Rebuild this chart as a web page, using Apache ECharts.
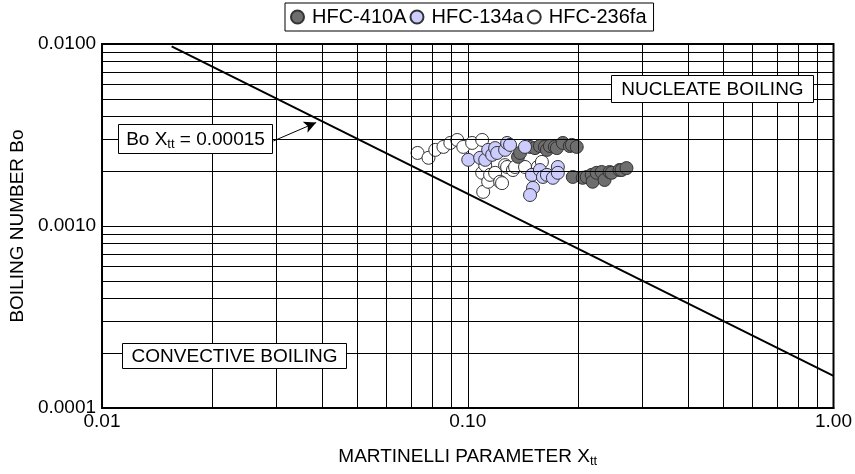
<!DOCTYPE html>
<html>
<head>
<meta charset="utf-8">
<script src="https://cdn.jsdelivr.net/npm/echarts@6/dist/echarts.min.js"></script>
<style>
html, body { margin: 0; padding: 0; background: #fff; }
#chart { width: 855px; height: 474px; }
</style>
</head>
<body>
<div id="chart"></div>
<script>
// [Xtt, Bo]
var r410a = [
  [0.1372, 0.00240], [0.1390, 0.00252], [0.1480, 0.00272], [0.1527, 0.00268],
  [0.1575, 0.00275], [0.1625, 0.00272], [0.1646, 0.00262], [0.1677, 0.00275],
  [0.1730, 0.00272], [0.1752, 0.00268], [0.1819, 0.00286], [0.1901, 0.00275],
  [0.1925, 0.00279], [0.1986, 0.00272],
  [0.1937, 0.00186], [0.2062, 0.00184], [0.2114, 0.00186], [0.2182, 0.00191],
  [0.2195, 0.00175], [0.2251, 0.00196], [0.2323, 0.00198], [0.2366, 0.00179],
  [0.2442, 0.00198], [0.2473, 0.00196], [0.2600, 0.00203], [0.2633, 0.00203],
  [0.2716, 0.00208]
];
var r134a = [
  [0.1003, 0.00231], [0.1081, 0.00237], [0.1116, 0.00231], [0.1137, 0.00262],
  [0.1166, 0.00246], [0.1188, 0.00268], [0.1203, 0.00252], [0.1265, 0.00262],
  [0.1281, 0.00286], [0.1305, 0.00279], [0.1434, 0.00272],
  [0.1498, 0.00191], [0.1508, 0.00162], [0.1480, 0.00148], [0.1575, 0.00203],
  [0.1605, 0.00186], [0.1646, 0.00191], [0.1709, 0.00184], [0.1763, 0.00211],
  [0.1763, 0.00196]
];
var r236fa = [
  [0.0729, 0.00252], [0.0781, 0.00237], [0.0815, 0.00262], [0.0858, 0.00272],
  [0.0896, 0.00286], [0.0936, 0.00297], [0.0972, 0.00272], [0.1028, 0.00286],
  [0.1095, 0.00297], [0.1095, 0.00196], [0.1102, 0.00154], [0.1116, 0.00216],
  [0.1137, 0.00175], [0.1151, 0.00191], [0.1188, 0.00196], [0.1226, 0.00175],
  [0.1241, 0.00172], [0.1265, 0.00216], [0.1281, 0.00211], [0.1329, 0.00203],
  [0.1347, 0.00211], [0.1434, 0.00211], [0.1555, 0.00211], [0.1595, 0.00225]
];
// Bo * Xtt = 0.00015 boundary
var boLine = [[0.0155, 0.0097], [1.0, 0.00015]];
var arrowFrom = [0.0294, 0.00293];
var arrowTo = [0.0385, 0.0037];
var xRange = [0.01, 1];
var yRange = [0.0001, 0.01];
var xMinor = [0.02, 0.03, 0.04, 0.05, 0.06, 0.07, 0.08, 0.09,
              0.2, 0.3, 0.4, 0.5, 0.6, 0.7, 0.8, 0.9];
var yMinor = [0.0002, 0.0003, 0.0004, 0.0005, 0.0006, 0.0007, 0.0008, 0.0009,
              0.002, 0.003, 0.004, 0.005, 0.006, 0.007, 0.008, 0.009];

var FONT = '"Liberation Sans", Arial, sans-serif';
var chart = echarts.init(document.getElementById('chart'));

// minor grid lines of the log-log paper
var gridLines = [];
xMinor.forEach(function (v) {
  gridLines.push([{ coord: [v, yRange[0]] }, { coord: [v, yRange[1]] }]);
});
yMinor.forEach(function (v) {
  gridLines.push([{ coord: [xRange[0], v] }, { coord: [xRange[1], v] }]);
});

function box(left, top, w, h, text, rich) {
  return {
    type: 'group', left: left, top: top, z: 100,
    children: [
      { type: 'rect', shape: { x: 0, y: 0, width: w, height: h },
        style: { fill: '#fff', stroke: '#000', lineWidth: 1 }, z: 100 },
      { type: 'text', x: w / 2, y: h / 2 + 1, z: 101,
        style: { text: text, rich: rich, align: 'center', verticalAlign: 'middle',
                 font: '19px ' + FONT, fill: '#000' } }
    ]
  };
}
var subRich = {
  a: { fontSize: 19, fontFamily: FONT, color: '#000', lineHeight: 22 },
  s: { fontSize: 13, fontFamily: FONT, color: '#000', lineHeight: 13, verticalAlign: 'bottom', padding: [4, 0, 0, 0] }
};

chart.setOption({
  animation: false,
  textStyle: { fontFamily: FONT },
  grid: { left: 100, right: 20, top: 44, bottom: 66, show: true, borderColor: '#000', borderWidth: 2 },
  legend: {
    data: ['HFC-410A', 'HFC-134a', 'HFC-236fa'],
    left: 285, top: 3,
    padding: [4, 7, 4, 5],
    itemGap: 3, itemWidth: 13, itemHeight: 13,
    borderColor: '#000', borderWidth: 1, backgroundColor: '#fff',
    icon: 'circle',
    selectedMode: false,
    textStyle: { fontSize: 20, color: '#000', fontFamily: FONT, padding: [0, 0, 0, 3] }
  },
  xAxis: {
    type: 'log', logBase: 10, min: xRange[0], max: xRange[1],
    name: '{a|MARTINELLI PARAMETER X}{s|tt}',
    nameLocation: 'middle', nameGap: 38,
    nameTextStyle: { rich: subRich },
    axisLine: { lineStyle: { color: '#000', width: 2 } },
    axisTick: { show: false },
    axisLabel: { fontSize: 19, color: '#000', margin: 4, formatter: function (v) { return v.toFixed(2); } },
    splitLine: { show: true, lineStyle: { color: '#000', width: 1 } }
  },
  yAxis: {
    type: 'log', logBase: 10, min: yRange[0], max: yRange[1],
    name: 'BOILING NUMBER Bo',
    nameLocation: 'middle', nameGap: 70,
    nameTextStyle: { fontSize: 19, color: '#000' },
    axisLine: { lineStyle: { color: '#000', width: 2 } },
    axisTick: { show: false },
    axisLabel: { fontSize: 19, color: '#000', margin: 6, formatter: function (v) { return v.toFixed(4); } },
    splitLine: { show: true, lineStyle: { color: '#000', width: 1 } }
  },
  series: [
    {
      name: 'grid', type: 'line', data: [], silent: true,
      markLine: {
        silent: true, symbol: ['none', 'none'], label: { show: false },
        lineStyle: { color: '#000', width: 1, type: 'solid' },
        emphasis: { disabled: true },
        data: gridLines
      }
    },
    {
      name: 'boundary', type: 'line', data: boLine, symbol: 'none', silent: true,
      lineStyle: { color: '#000', width: 2 },
      markLine: {
        silent: true, symbol: ['none', 'arrow'], symbolSize: [9, 12],
        label: { show: false },
        lineStyle: { color: '#000', width: 1, type: 'solid' },
        data: [[{ coord: arrowFrom }, { coord: arrowTo }]]
      }
    },
    {
      name: 'HFC-236fa', type: 'scatter', data: r236fa, symbolSize: 13,
      itemStyle: { color: '#ffffff', borderColor: '#333', borderWidth: 1, opacity: 1 }
    },
    {
      name: 'HFC-410A', type: 'scatter', data: r410a, symbolSize: 13,
      itemStyle: { color: '#6e6e6e', borderColor: '#333', borderWidth: 1, opacity: 1 }
    },
    {
      name: 'HFC-134a', type: 'scatter', data: r134a, symbolSize: 13,
      itemStyle: { color: '#ccccff', borderColor: '#333', borderWidth: 1, opacity: 1 }
    }
  ],
  graphic: [
    box(118, 124, 154, 29, '{a|Bo X}{s|tt}{a| = 0.00015}', subRich),
    box(611, 75, 202, 27, 'NUCLEATE BOILING'),
    box(122, 343, 224, 25, 'CONVECTIVE BOILING')
  ]
});
</script>
</body>
</html>
